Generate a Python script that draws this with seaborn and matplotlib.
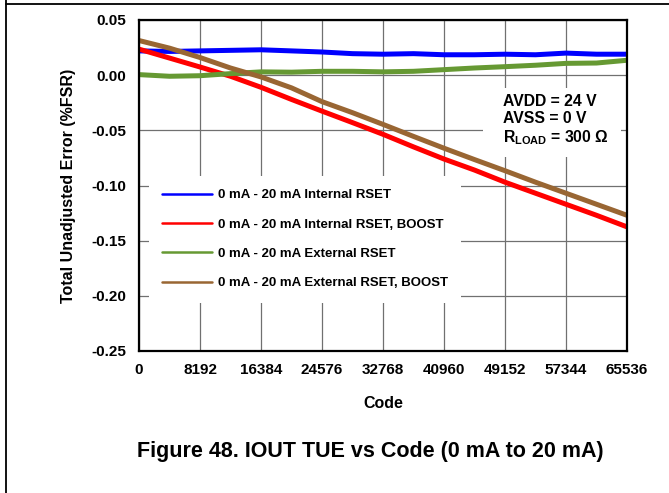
# IOUT TUE vs Code (0 mA to 20 mA)

import numpy as np
import pandas as pd
import matplotlib
matplotlib.use('Agg')
import matplotlib.pyplot as plt
from matplotlib.lines import Line2D
from matplotlib.patches import Rectangle
import seaborn as sns

# values, one point every 4096 codes
codes = [0, 4096, 8192, 12288, 16384, 20480, 24576, 28672, 32768,
         36864, 40960, 45056, 49152, 53248, 57344, 61440, 65536]
internal = [0.022, 0.0215, 0.022, 0.0225, 0.023, 0.022, 0.021, 0.0195, 0.019,
            0.0195, 0.0185, 0.0185, 0.019, 0.0185, 0.020, 0.019, 0.019]
internal_boost = [0.0236, 0.0155, 0.0074, -0.001, -0.011, -0.022, -0.0326, -0.043, -0.0536,
                  -0.065, -0.076, -0.086, -0.097, -0.107, -0.117, -0.127, -0.1375]
external = [0.0005, -0.001, -0.0005, 0.0014, 0.003, 0.0027, 0.0035, 0.0035, 0.003,
            0.0035, 0.005, 0.0065, 0.0077, 0.009, 0.0107, 0.011, 0.0135]
external_boost = [0.0314, 0.0245, 0.016, 0.0065, -0.0016, -0.0115, -0.024, -0.034, -0.0446,
                  -0.0555, -0.0662, -0.0765, -0.0866, -0.097, -0.107, -0.117, -0.127]

labels = ['0 mA - 20 mA Internal RSET',
          '0 mA - 20 mA Internal RSET, BOOST',
          '0 mA - 20 mA External RSET',
          '0 mA - 20 mA External RSET, BOOST']
colors = ['#0000FF', '#FF0000', '#669933', '#996633']

xticks = [0, 8192, 16384, 24576, 32768, 40960, 49152, 57344, 65536]
yticks = [-0.25, -0.20, -0.15, -0.10, -0.05, 0.00, 0.05]

df = pd.concat([
    pd.DataFrame({'Code': codes, 'TUE': vals, 'series': lab})
    for vals, lab in zip([internal, internal_boost, external, external_boost], labels)
])

sns.set_style('white')
plt.rcParams['font.family'] = ['Liberation Sans', 'DejaVu Sans']
plt.rcParams['font.weight'] = 'bold'
plt.rcParams['text.color'] = 'black'
plt.rcParams['axes.labelcolor'] = 'black'
plt.rcParams['xtick.color'] = 'black'
plt.rcParams['ytick.color'] = 'black'
plt.rcParams['mathtext.fontset'] = 'custom'
plt.rcParams['mathtext.rm'] = 'Liberation Sans:bold'
plt.rcParams['mathtext.bf'] = 'Liberation Sans:bold'

fig = plt.figure(figsize=(6.69, 4.93), dpi=100)
ax = fig.add_axes([139/669, 1 - 351/493, 488/669, 331/493])

sns.lineplot(data=df, x='Code', y='TUE', hue='series', hue_order=labels,
             palette=dict(zip(labels, colors)), linewidth=3.6, ax=ax, zorder=2)

ax.set_xlim(0, 65536)
ax.set_ylim(-0.25, 0.05)
ax.set_xticks(xticks)
ax.set_xticklabels([str(t) for t in xticks])
ax.set_yticks(yticks)
ax.set_yticklabels([f'{t:.2f}' for t in yticks])
ax.tick_params(length=0, labelsize=11, colors='black')
ax.tick_params(axis='x', pad=9)
ax.tick_params(axis='y', pad=9)
for lab in ax.get_xticklabels() + ax.get_yticklabels():
    lab.set_fontweight('bold')

ax.set_axisbelow(True)
ax.grid(True, color='#707070', linewidth=0.9)
for sp in ax.spines.values():
    sp.set_color('black')
    sp.set_linewidth(1.6)

ax.set_xlabel('Code', fontsize=11.5, fontweight='bold', color='black')
ax.set_ylabel('Total Unadjusted Error (%FSR)', fontsize=11.5, fontweight='bold', color='black')
ax.xaxis.set_label_coords(0.5, (351 - 396) / 331)
ax.yaxis.set_label_coords((76 - 139) / 488, 0.5)

# legend on a white box
handles, _ = ax.get_legend_handles_labels()
leg = ax.legend(handles, labels, loc='upper left', bbox_to_anchor=(0.02, 0.529),
                borderaxespad=0, frameon=True, fancybox=False, framealpha=1,
                facecolor='white', edgecolor='none', fontsize=9.5,
                handlelength=3.8, handletextpad=0.45, labelspacing=1.3, borderpad=1.0)
for ln in leg.get_lines():
    ln.set_linewidth(1.8)
for t in leg.get_texts():
    t.set_fontweight('bold')
    t.set_color('black')

# conditions box
ax.add_patch(Rectangle((0.705, 0.586), 0.283, 0.209, transform=ax.transAxes,
                       facecolor='white', edgecolor='none', zorder=1))
ax.text(0.746, 0.775, 'AVDD = 24 V\nAVSS = 0 V\nR$_{\\mathrm{LOAD}}$ = 300 Ω',
        transform=ax.transAxes, ha='left', va='top', fontsize=11.3,
        fontweight='bold', linespacing=1.15, color='black', zorder=3)

fig.text(370/669, 1 - 452/493, 'Figure 48. IOUT TUE vs Code (0 mA to 20 mA)',
         ha='center', va='center', fontsize=15.5, fontweight='bold', color='black')

# page frame lines
fig.add_artist(Line2D([6/669, 6/669], [0, 1], color='black', linewidth=1.3,
                      transform=fig.transFigure))
fig.add_artist(Line2D([6/669, 1], [1 - 4/493, 1 - 4/493], color='black', linewidth=1.3,
                      transform=fig.transFigure))

fig.savefig('out.png', dpi=100)
